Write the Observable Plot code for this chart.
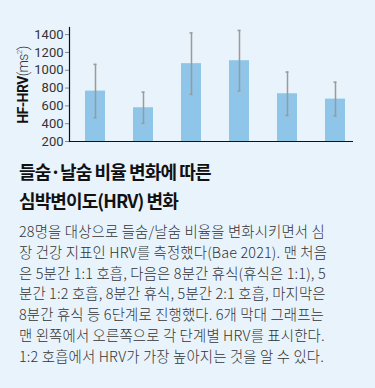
<!DOCTYPE html>
<html><head><meta charset="utf-8">
<script src="https://cdn.jsdelivr.net/npm/d3@7"></script>
<script src="https://cdn.jsdelivr.net/npm/@observablehq/plot@0.6"></script>
<style>
html,body{margin:0;padding:0;background:#e9f3fc;}
body{width:375px;height:388px;overflow:hidden;position:relative;font-family:"Noto Sans CJK KR","Noto Sans",sans-serif;}
#chart{position:absolute;left:0;top:0;}
#ylab{position:absolute;left:23px;top:85px;transform:translate(-50%,-50%) rotate(-90deg);white-space:nowrap;font-size:14px;color:#111;letter-spacing:-0.6px;font-family:"Liberation Sans Narrow","Roboto","Noto Sans",sans-serif;}
#ylab b{font-weight:bold;}
#ylab span{font-weight:300;color:#333;}
#title{position:absolute;left:19px;top:157px;font-size:18px;font-weight:bold;line-height:29px;color:#111;letter-spacing:-0.9px;}
#body{position:absolute;left:19px;top:221px;font-size:14.4px;line-height:20.8px;color:#333;letter-spacing:0.15px;font-weight:300;width:360px;white-space:nowrap;}
</style></head>
<body>
<div id="chart"></div>
<div id="ylab"><b>HF-HRV</b><span>(ms<sup style="font-size:8px">2</sup>)</span></div>
<div id="title">들숨·날숨 비율 변화에 따른<br>심박변이도(HRV) 변화</div>
<div id="body">28명을 대상으로 들숨/날숨 비율을 변화시키면서 심<br>장 건강 지표인 HRV를 측정했다(Bae 2021). 맨 처음<br>은 5분간 1:1 호흡, 다음은 8분간 휴식(휴식은 1:1), 5<br>분간 1:2 호흡, 8분간 휴식, 5분간 2:1 호흡, 마지막은<br>8분간 휴식 등 6단계로 진행했다. 6개 막대 그래프는<br>맨 왼쪽에서 오른쪽으로 각 단계별 HRV를 표시한다.<br>1:2 호흡에서 HRV가 가장 높아지는 것을 알 수 있다.</div>
<script>
const stages = ["1:1 호흡", "휴식 1", "1:2 호흡", "휴식 2", "2:1 호흡", "휴식 3"];
const means = [766, 579, 1074, 1107, 736, 676];
const errs = [300, 175, 345, 340, 244, 190];
const yTicks = [200, 400, 600, 800, 1000, 1200, 1400];

const data = stages.map((s, i) => ({stage: s, mean: means[i], lo: means[i] - errs[i], hi: means[i] + errs[i]}));

const plot = Plot.plot({
  width: 375,
  height: 150,
  marginLeft: 69,
  marginRight: 22,
  marginTop: 27,
  marginBottom: 9,
  style: {background: "transparent", fontFamily: "'Liberation Sans Narrow', Roboto, sans-serif", fontSize: "13px", color: "#333"},
  x: {domain: stages, paddingInner: 0.576, paddingOuter: 0.222, align: 0.66, axis: null},
  y: {domain: [200, 1480], axis: null},
  marks: [
    Plot.barY(data, {x: "stage", y1: 200, y2: "mean", fill: "#8ec5e8"}),
    Plot.ruleX(data, {x: "stage", y1: "lo", y2: "hi", stroke: "#9a9a9a", strokeWidth: 1.5}),
    Plot.tickY(data, {x: "stage", y: "hi", stroke: "#9a9a9a", strokeWidth: 1.5, inset: 8.5}),
    Plot.tickY(data, {x: "stage", y: "lo", stroke: "#9a9a9a", strokeWidth: 1.5, inset: 8.5}),
    Plot.axisY({ticks: yTicks, tickSize: 4, tickPadding: 2, stroke: "#888", fill: "#333", label: null, tickFormat: d => String(d)}),
    Plot.ruleY([200], {stroke: "#111", strokeWidth: 1.2}),
    Plot.frame({anchor: "left", stroke: "#111", strokeWidth: 1.2})
  ]
});
document.getElementById("chart").appendChild(plot);
</script>
</body></html>
